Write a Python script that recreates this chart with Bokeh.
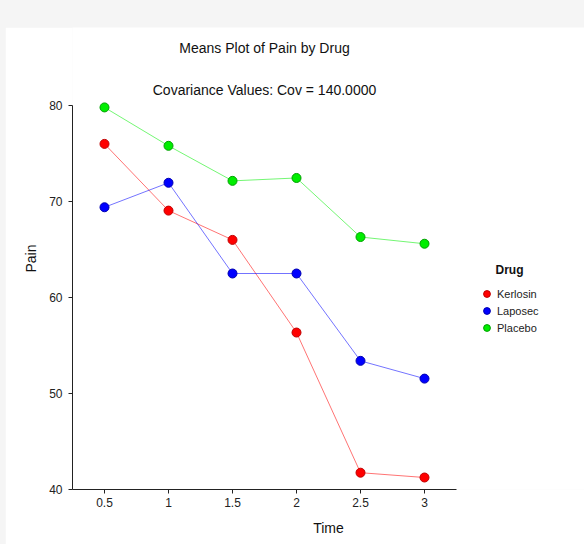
from bokeh.plotting import figure
from bokeh.models import (ColumnDataSource, Legend, LegendItem, Label, FixedTicker,
                          Range1d)
from bokeh.embed import file_html
from bokeh.resources import INLINE

# Mean pain score per drug at each time point
times = [0.5, 1.0, 1.5, 2.0, 2.5, 3.0]
drugs = ["Kerlosin", "Laposec", "Placebo"]
kerlosin = [76.0, 69.05, 66.0, 56.35, 41.75, 41.25]
laposec = [69.4, 71.95, 62.5, 62.5, 53.4, 51.55]
placebo = [79.8, 75.8, 72.15, 72.45, 66.3, 65.6]

x_ticks = [0.5, 1.0, 1.5, 2.0, 2.5, 3.0]
x_tick_labels = ["0.5", "1", "1.5", "2", "2.5", "3"]
y_ticks = [40, 50, 60, 70, 80]

title_text = "Means Plot of Pain by Drug"
subtitle_text = "Covariance Values: Cov = 140.0000"
legend_title = "Drug"

FONT = "Liberation Sans"
BG = "#f5f5f5"

# The frame spans the whole white panel to the right of / above the axes so that
# titles and legend live inside it; the axes are bounded to the data extent.
X_LO, X_HI = 0.25, 3.25
Y_LO, Y_HI = 40, 80
PX_X = 128.0   # pixels per time unit
PX_Y = 9.6     # pixels per pain unit
W, H = 579, 517
LEFT, BOTTOM = 67, 55

p = figure(width=W, height=H, output_backend="svg", toolbar_location=None,
           x_range=Range1d(X_LO, X_LO + (W - LEFT) / PX_X),
           y_range=Range1d(Y_LO, Y_LO + (H - BOTTOM) / PX_Y),
           min_border_left=LEFT, min_border_right=0, min_border_top=0,
           min_border_bottom=BOTTOM)
p.outline_line_color = None
p.grid.visible = False
p.background_fill_color = "white"
p.border_fill_color = "white"

styles = [
    ("#ff0000", "#c00000"),
    ("#0000ff", "#0000b0"),
    ("#00ee00", "#00a000"),
]
series = [kerlosin, laposec, placebo]

items = []
for name, vals, (col, edge) in zip(drugs, series, styles):
    src = ColumnDataSource(dict(x=times, y=vals))
    p.line("x", "y", source=src, line_color=col, line_alpha=0.55, line_width=1)
    r = p.scatter("x", "y", source=src, size=9, fill_color=col,
                  line_color=edge, line_width=1)
    items.append(LegendItem(label=name, renderers=[r]))

# Legend to the right of the data area (offset from frame's lower-left, px)
LEG_X, LEG_Y = 406, 153
legend = Legend(items=items, location=(LEG_X, LEG_Y))
legend.border_line_color = None
legend.background_fill_alpha = 0
legend.label_text_font = FONT
legend.label_text_font_size = "11px"
legend.label_text_color = "#222222"
legend.glyph_width = 17
legend.glyph_height = 17
legend.label_height = 17
legend.spacing = 0
legend.label_standoff = 2
legend.padding = 0
legend.margin = 0
p.add_layout(legend)

p.add_layout(Label(x=LEG_X + 17, y=LEG_Y + 67, x_units="screen", y_units="screen",
                   text=legend_title, text_align="left",
                   text_baseline="middle", text_font=FONT, text_font_size="12px",
                   text_font_style="bold", text_color="#111111"))

for ax in (p.xaxis[0], p.yaxis[0]):
    ax.axis_line_color = "#222222"
    ax.major_tick_line_color = "#222222"
    ax.major_tick_in = 0
    ax.major_tick_out = 4
    ax.minor_tick_line_color = None
    ax.major_label_text_font = FONT
    ax.major_label_text_font_size = "12px"
    ax.major_label_text_color = "#222222"
    ax.axis_label_text_font = FONT
    ax.axis_label_text_font_size = "14px"
    ax.axis_label_text_font_style = "normal"
    ax.axis_label_text_color = "#111111"

p.xaxis.bounds = (X_LO, X_HI)
p.xaxis.ticker = FixedTicker(ticks=x_ticks)
p.xaxis.major_label_overrides = {t: s for t, s in zip(x_ticks, x_tick_labels)}
p.xaxis.axis_label = "Time"
p.xaxis.major_label_standoff = 4
p.xaxis.axis_label_standoff = 10

p.yaxis.bounds = (Y_LO, Y_HI)
p.yaxis.ticker = FixedTicker(ticks=y_ticks)
p.yaxis.axis_label = "Pain"
p.yaxis.major_label_standoff = 6
p.yaxis.axis_label_standoff = 7

# Two title lines centred over the data area
for txt, yv in ((title_text, 85.95), (subtitle_text, 81.6)):
    p.add_layout(Label(x=(X_LO + X_HI) / 2, y=yv, text=txt, text_align="center",
                       text_baseline="middle", text_font=FONT,
                       text_font_size="14px", text_color="#111111"))

html = file_html(p, INLINE)
page_css = ("<style>html,body{margin:0;padding:0;background:%s;}"
            "body{padding:27px 0 0 5px;}</style></head>" % BG)
html = html.replace("</head>", page_css, 1)
open("out.html", "w").write(html)
